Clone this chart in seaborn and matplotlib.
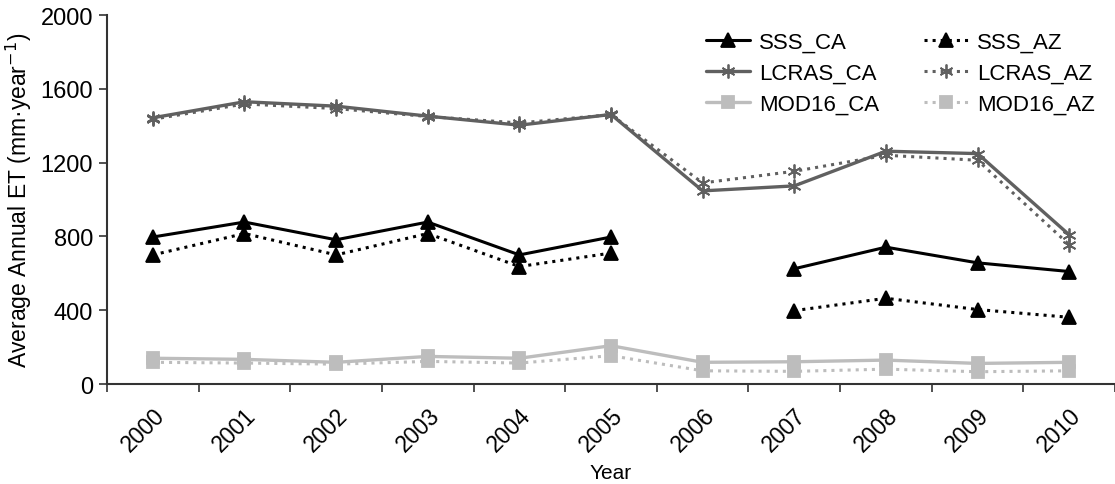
import numpy as np
import pandas as pd
import matplotlib
matplotlib.use("Agg")
import matplotlib.pyplot as plt
from matplotlib.lines import Line2D
import seaborn as sns

years = ["2000", "2001", "2002", "2003", "2004", "2005", "2006", "2007", "2008", "2009", "2010"]
sss_ca = [797, 878, 782, 878, 700, 797, np.nan, 625, 742, 657, 610]
sss_az = [700, 816, 700, 816, 637, 710, np.nan, 398, 465, 404, 362]
lcras_ca = [1443, 1530, 1506, 1452, 1403, 1461, 1047, 1074, 1262, 1249, 809]
lcras_az = [1435, 1518, 1493, 1450, 1415, 1460, 1090, 1153, 1240, 1213, 755]
mod16_ca = [140, 134, 118, 150, 140, 208, 118, 121, 130, 112, 118]
mod16_az = [118, 114, 108, 123, 114, 154, 72, 69, 81, 67, 72]

sns.set_theme(style="ticks")
plt.rcParams['font.family'] = ['Liberation Sans', 'DejaVu Sans']
for k in ["text.color", "axes.labelcolor", "xtick.color", "ytick.color"]:
    plt.rcParams[k] = "black"

fig = plt.figure(figsize=(11.15, 4.85), dpi=100)
ax = fig.add_axes([0.096, 0.206, 0.904, 0.761])

asterisk = (6, 2, 0)
series = [
    ("SSS_CA", sss_ca, "#000000", "-", "^", 9.5, 2.2),
    ("SSS_AZ", sss_az, "#000000", ":", "^", 9.5, 2.2),
    ("LCRAS_CA", lcras_ca, "#606060", "-", asterisk, 10, 2.4),
    ("LCRAS_AZ", lcras_az, "#606060", ":", asterisk, 10, 2.2),
    ("MOD16_CA", mod16_ca, "#bdbdbd", "-", "s", 8, 2.4),
    ("MOD16_AZ", mod16_az, "#bdbdbd", ":", "s", 8, 2.2),
]

x_idx = np.arange(len(years))
handles = {}
for name, vals, col, ls, mk, ms, lw in series:
    df = pd.DataFrame({"x": x_idx, "y": vals})
    seg = df["y"].isna().cumsum()
    for _, part in df.dropna().groupby(seg[df["y"].notna()]):
        sns.lineplot(data=part, x="x", y="y", ax=ax, color=col, linestyle=ls,
                     marker=mk, markersize=ms, linewidth=lw,
                     markeredgecolor=col, markerfacecolor=col, markeredgewidth=1.3,
                     legend=False)
    handles[name] = Line2D([], [], color=col, linestyle=ls, marker=mk, markersize=ms,
                           linewidth=lw, markeredgecolor=col, markerfacecolor=col,
                           markeredgewidth=1.3)

ax.set_xlim(-0.5, 10.42)
ax.set_ylim(0, 2000)
ax.set_yticks([0, 400, 800, 1200, 1600, 2000])
ax.tick_params(axis='y', labelsize=17, length=6, width=1.2, color="#333333", pad=4)

ax.set_xticks(np.arange(-0.5, 11, 1.0))
ax.set_xticklabels([])
ax.set_xticks(x_idx, minor=True)
ax.set_xticklabels(years, minor=True, rotation=45, ha="right", rotation_mode="anchor", fontsize=16.5)
ax.tick_params(axis='x', which='major', length=6, width=1.2, color="#333333")
ax.tick_params(axis='x', which='minor', length=0, pad=14)

for s in ["top", "right"]:
    ax.spines[s].set_visible(False)
for s in ["left", "bottom"]:
    ax.spines[s].set_linewidth(1.5)
    ax.spines[s].set_color("#333333")

ax.set_xlabel("Year", fontsize=15, labelpad=5)
ax.set_ylabel("Average Annual ET (mm\u00b7year$^{-1}$)", fontsize=16.5, labelpad=5)

order = ["SSS_CA", "LCRAS_CA", "MOD16_CA", "SSS_AZ", "LCRAS_AZ", "MOD16_AZ"]
ax.legend([handles[k] for k in order], order, ncol=2, frameon=False, fontsize=16,
          loc="upper right", bbox_to_anchor=(1.0, 1.01), handlelength=2.0,
          columnspacing=2.0, labelspacing=0.45, handletextpad=0.4)

fig.savefig("out.png", dpi=100)
